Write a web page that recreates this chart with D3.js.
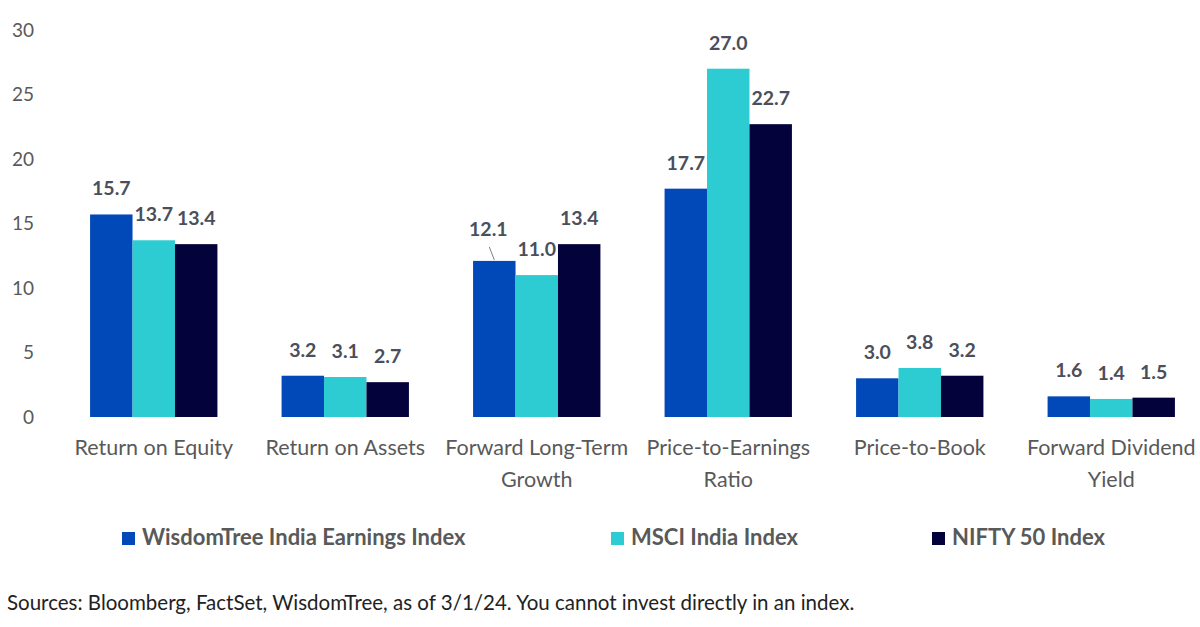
<!DOCTYPE html>
<html>
<head>
<meta charset="utf-8">
<script src="https://cdn.jsdelivr.net/npm/d3@7"></script>
<style>
  body { margin: 0; background: #fff; }
  svg { font-family: Lato, "Open Sans", sans-serif; }
</style>
</head>
<body>
<svg id="chart" width="1200" height="627"></svg>
<script>
// categories (each one is a list of lines)
var categories = [
    ["Return on Equity"],
    ["Return on Assets"],
    ["Forward Long-Term", "Growth"],
    ["Price-to-Earnings", "Ratio"],
    ["Price-to-Book"],
    ["Forward Dividend", "Yield"]
]
var seriesNames = ["WisdomTree India Earnings Index", "MSCI India Index", "NIFTY 50 Index"]
var wisdomTree = [15.7, 3.2, 12.1, 17.7, 3.0, 1.6]
var msci = [13.7, 3.1, 11.0, 27.0, 3.8, 1.4]
var nifty = [13.4, 2.7, 13.4, 22.7, 3.2, 1.5]
var yTicks = [0, 5, 10, 15, 20, 25, 30]
var colors = ["#0148b9", "#2dcbd2", "#03023a"]
var source = "Sources: Bloomberg, FactSet, WisdomTree, as of 3/1/24. You cannot invest directly in an index."

var svg = d3.select("#chart")
var textColor = "#595959"

var x = d3.scaleBand()
    .domain(d3.range(categories.length))
    .range([58, 1207])
    .paddingInner(0.335)
    .paddingOuter(0.1675)

var xs = d3.scaleBand()
    .domain(d3.range(seriesNames.length))
    .range([0, x.bandwidth()])

var y = d3.scaleLinear()
    .domain([0, 30])
    .range([417, 30])

// y axis labels, no line
svg.append("g")
    .selectAll("text")
    .data(yTicks)
    .enter().append("text")
    .attr("x", 34)
    .attr("y", d => y(d))
    .attr("dy", "0.35em")
    .attr("text-anchor", "end")
    .attr("fill", textColor)
    .style("font-size", "19px")
    .text(d => d)

var allSeries = [wisdomTree, msci, nifty]

var groups = svg.selectAll(".grp")
    .data(categories)
    .enter().append("g")
    .attr("class", "grp")
    .attr("transform", (d, i) => "translate(" + x(i) + ",0)")

groups.each(function (cat, ci) {
    var g = d3.select(this)
    allSeries.forEach(function (vals, si) {
        var v = vals[ci]
        g.append("rect")
            .attr("x", xs(si))
            .attr("y", y(v))
            .attr("width", xs.bandwidth())
            .attr("height", y(0) - y(v))
            .attr("fill", colors[si])

        // value label; the 12.1 one sits nudged left with a leader line
        var cx = xs(si) + xs.bandwidth() / 2
        var lift = 19
        if (ci == 2 && si == 0) {
            g.append("line")
                .attr("x1", cx)
                .attr("y1", y(v) - 1)
                .attr("x2", cx - 5)
                .attr("y2", y(v) - 14)
                .attr("stroke", "#7f7f7f")
                .attr("stroke-width", 1)
            cx = cx - 6
            lift = 25
        }
        g.append("text")
            .attr("x", cx)
            .attr("y", y(v) - lift)
            .attr("text-anchor", "middle")
            .attr("fill", "#4a4f5c")
            .style("font-size", "19.5px")
            .style("font-weight", "bold")
            .text(v.toFixed(1))
    })

    // category label
    g.append("text")
        .attr("x", x.bandwidth() / 2)
        .attr("y", 455)
        .attr("text-anchor", "middle")
        .attr("fill", textColor)
        .style("font-size", "21.5px")
        .selectAll("tspan")
        .data(cat)
        .enter().append("tspan")
        .attr("x", x.bandwidth() / 2)
        .attr("dy", (d, i) => i == 0 ? 0 : 32)
        .text(d => d)
})

// legend
var legendX = [122, 611, 932]
var legend = svg.selectAll(".leg")
    .data(seriesNames)
    .enter().append("g")
    .attr("class", "leg")
    .attr("transform", (d, i) => "translate(" + legendX[i] + ",531)")

legend.append("rect")
    .attr("width", 13)
    .attr("height", 13)
    .attr("y", 1)
    .attr("fill", (d, i) => colors[i])

legend.append("text")
    .attr("x", 20)
    .attr("y", 14)
    .attr("fill", textColor)
    .style("font-size", "22px")
    .style("font-weight", "bold")
    .text(d => d)

// source note
svg.append("text")
    .attr("x", 7)
    .attr("y", 610)
    .attr("fill", "#222")
    .style("font-size", "20.5px")
    .text(source)
</script>
</body>
</html>
